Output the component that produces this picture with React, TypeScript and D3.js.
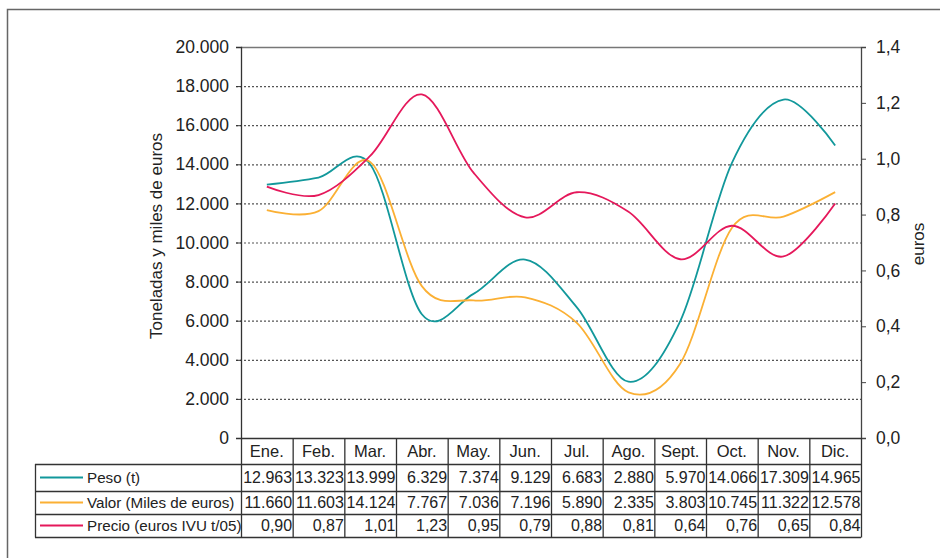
import React, { useRef, useEffect } from "react";
import * as d3 from "d3";

const months = ["Ene.", "Feb.", "Mar.", "Abr.", "May.", "Jun.", "Jul.", "Ago.", "Sept.", "Oct.", "Nov.", "Dic."];
const peso = [12963, 13323, 13999, 6329, 7374, 9129, 6683, 2880, 5970, 14066, 17309, 14965];
const valor = [11660, 11603, 14124, 7767, 7036, 7196, 5890, 2335, 3803, 10745, 11322, 12578];
const precio = [0.9, 0.87, 1.01, 1.23, 0.95, 0.79, 0.88, 0.81, 0.64, 0.76, 0.65, 0.84];
const leftTicks = [0, 2000, 4000, 6000, 8000, 10000, 12000, 14000, 16000, 18000, 20000];
const rightTicks = [0, 0.2, 0.4, 0.6, 0.8, 1.0, 1.2, 1.4];

const seriesRows = [
    { label: "Peso (t)", values: peso, color: "#12989b", axis: "left", fmt: (v: number) => d3.format(",")(v).replace(/,/g, ".") },
    { label: "Valor (Miles de euros)", values: valor, color: "#fbb034", axis: "left", fmt: (v: number) => d3.format(",")(v).replace(/,/g, ".") },
    { label: "Precio (euros IVU t/05)", values: precio, color: "#e5185b", axis: "right", fmt: (v: number) => d3.format(".2f")(v).replace(".", ",") },
];

const App: React.FC = () => {
    const svgRef = useRef<SVGSVGElement | null>(null);
    const width = 940;
    const height = 558;

    useEffect(() => {
        if (!svgRef.current) return;
        d3.select(svgRef.current).selectAll("*").remove();

        const svg = d3.select(svgRef.current);
        const font = "'Liberation Sans', Arial, sans-serif";
        const left = 241, right = 861, top = 47, bottom = 438;

        // outer frame (cropped on right/bottom)
        svg.append("rect")
            .attr("x", 7.5).attr("y", 9.5).attr("width", 960).attr("height", 600)
            .attr("fill", "white").attr("stroke", "#666").attr("stroke-width", 1.5);

        const x = d3.scaleBand<string>().domain(months).range([left, right]).padding(0);
        const yL = d3.scaleLinear().domain([0, 20000]).range([bottom, top]);
        const yR = d3.scaleLinear().domain([0, 1.4]).range([bottom, top]);

        // gridlines
        svg.append("g").selectAll("line")
            .data(leftTicks.filter((d) => d > 0 && d < 20000))
            .enter().append("line")
            .attr("x1", left - 5).attr("x2", right)
            .attr("y1", (d) => yL(d) + 0.5).attr("y2", (d) => yL(d) + 0.5)
            .attr("stroke", "#555").attr("stroke-width", 1.2)
            .attr("stroke-dasharray", "2,2");

        // top border of plot
        svg.append("line")
            .attr("x1", left).attr("x2", right).attr("y1", top + 0.5).attr("y2", top + 0.5)
            .attr("stroke", "#777").attr("stroke-width", 1.5);

        // left axis
        const gL = svg.append("g").attr("transform", `translate(${left},0)`)
            .call(d3.axisLeft(yL).tickValues(leftTicks).tickSize(5).tickPadding(7)
                .tickFormat((d) => d3.format(",")(d as number).replace(/,/g, ".")));
        gL.select(".domain").attr("stroke", "#333").attr("stroke-width", 1.3);
        gL.selectAll(".tick line").attr("stroke", "#333");
        gL.selectAll("text").attr("font-family", font).attr("font-size", 17.5).attr("fill", "#222");

        // right axis
        const gR = svg.append("g").attr("transform", `translate(${right},0)`)
            .call(d3.axisRight(yR).tickValues(rightTicks).tickSize(5).tickPadding(10)
                .tickFormat((d) => d3.format(".1f")(d as number).replace(".", ",")));
        gR.select(".domain").attr("stroke", "#444").attr("stroke-width", 1.3);
        gR.selectAll(".tick line").attr("stroke", "#444");
        gR.selectAll("text").attr("font-family", font).attr("font-size", 17.5).attr("fill", "#222");

        // axis titles
        svg.append("text")
            .attr("transform", `translate(162,236) rotate(-90)`)
            .attr("text-anchor", "middle")
            .attr("font-family", font).attr("font-size", 17).attr("fill", "#222")
            .text("Toneladas y miles de euros");
        svg.append("text")
            .attr("transform", `translate(924,244) rotate(-90)`)
            .attr("text-anchor", "middle")
            .attr("font-family", font).attr("font-size", 17).attr("fill", "#222")
            .text("euros");

        // lines
        const cx = (i: number) => (x(months[i]) as number) + x.bandwidth() / 2;
        seriesRows.forEach((s) => {
            const yS = s.axis === "left" ? yL : yR;
            const line = d3.line<number>()
                .x((_, i) => cx(i))
                .y((d) => yS(d))
                .curve(d3.curveCardinal.tension(0));
            svg.append("path")
                .datum(s.values)
                .attr("d", line)
                .attr("fill", "none")
                .attr("stroke", s.color)
                .attr("stroke-width", 1.8);
        });

        // data table
        const rowLines = [438, 464, 491, 514, 537];
        const tableLeft = 35;
        const table = svg.append("g");
        const tstroke = "#333";

        // horizontal lines
        rowLines.slice(1).forEach((yy) => {
            table.append("line")
                .attr("x1", tableLeft).attr("x2", right)
                .attr("y1", yy + 0.5).attr("y2", yy + 0.5)
                .attr("stroke", tstroke).attr("stroke-width", 1.3);
        });
        // bottom axis line
        table.append("line")
            .attr("x1", left).attr("x2", right)
            .attr("y1", bottom + 0.5).attr("y2", bottom + 0.5)
            .attr("stroke", tstroke).attr("stroke-width", 1.3);
        // left edge of legend column
        table.append("line")
            .attr("x1", tableLeft + 0.5).attr("x2", tableLeft + 0.5)
            .attr("y1", rowLines[1]).attr("y2", rowLines[4] + 0.5)
            .attr("stroke", tstroke).attr("stroke-width", 1.3);
        // vertical column dividers
        const bounds = months.map((m) => x(m) as number).concat([right]);
        table.selectAll(".vdiv")
            .data(bounds)
            .enter().append("line")
            .attr("x1", (d) => d + 0.5).attr("x2", (d) => d + 0.5)
            .attr("y1", bottom).attr("y2", rowLines[4] + 0.5)
            .attr("stroke", tstroke).attr("stroke-width", 1.3);

        // month header
        table.selectAll(".mlabel")
            .data(months)
            .enter().append("text")
            .attr("x", (_, i) => cx(i))
            .attr("y", (rowLines[0] + rowLines[1]) / 2 + 6)
            .attr("text-anchor", "middle")
            .attr("font-family", font).attr("font-size", 16.5).attr("fill", "#222")
            .text((d) => d);

        // series rows
        seriesRows.forEach((s, r) => {
            const yMid = (rowLines[r + 1] + rowLines[r + 2]) / 2;
            table.append("line")
                .attr("x1", 40).attr("x2", 83)
                .attr("y1", yMid).attr("y2", yMid)
                .attr("stroke", s.color).attr("stroke-width", 1.8);
            table.append("text")
                .attr("x", 87).attr("y", yMid + 5.5)
                .attr("font-family", font).attr("font-size", 15.2).attr("fill", "#222")
                .attr("textLength", null)
                .text(s.label);
            table.selectAll(`.v${r}`)
                .data(s.values)
                .enter().append("text")
                .attr("x", (_, i) => (x(months[i]) as number) + x.bandwidth() - 0.5)
                .attr("y", yMid + 5.5)
                .attr("text-anchor", "end")
                .attr("font-family", font).attr("font-size", 16).attr("fill", "#222")
                .text((d) => s.fmt(d));
        });
    }, []);

    return (
        <svg
            ref={svgRef}
            width={width}
            height={height}
            style={{ position: "absolute", left: 0, top: 0, background: "white" }}
        ></svg>
    );
};

export default App;
